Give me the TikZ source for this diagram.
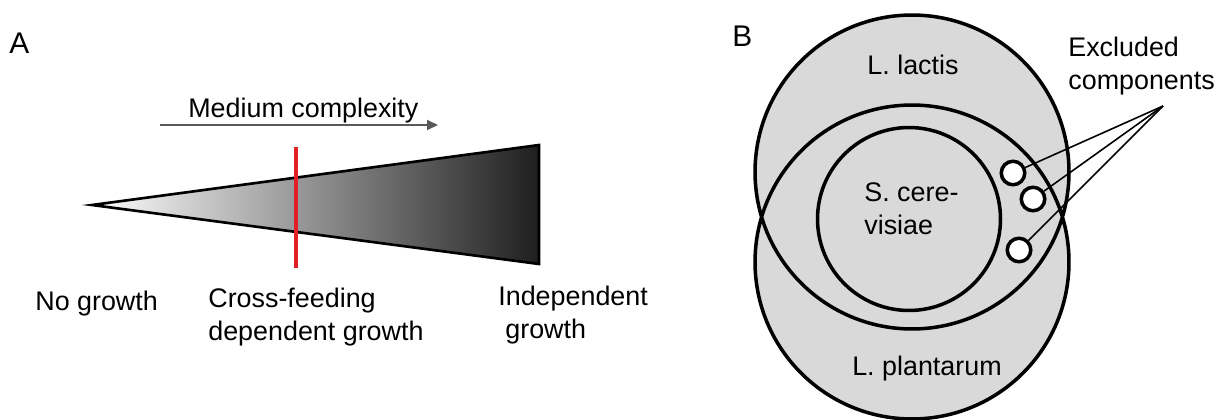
\documentclass[tikz,border=0pt]{standalone}
\usepackage{fontspec}
\setmainfont{Liberation Sans}
\usetikzlibrary{arrows.meta, positioning}
\definecolor{venngray}{HTML}{D9D9D9}
\definecolor{cutred}{HTML}{E31E24}
\tikzset{
    panel/.style={font=\fontsize{17}{20}\selectfont},
    ring/.style={line width=2pt},
    excl/.style={circle, draw, line width=2pt, fill=white, minimum size=0.47cm},
    lead/.style={line width=0.9pt},
    cutline/.style={cutred, line width=1.9pt},
}
\begin{document}
\begin{tikzpicture}[x=0.02cm, y=-0.02cm, every node/.style={font=\fontsize{15.3}{18.5}\selectfont, inner sep=0pt}]
    \useasboundingbox (0,0) rectangle (1219,419);
    \node[panel, anchor=base west] (lblA) at (9,53) {A};
    \coordinate (tip) at (92,205);
    \coordinate (tr) at (539,145);
    \coordinate (br) at (539,264);
    \shade[left color=white, right color=black!88] (tip) -- (tr) -- (br) -- cycle;
    \draw[line width=1.5pt] (tip) -- (tr) -- (br) -- cycle;
    \coordinate (cutTop) at (296,147);
    \coordinate (cutBot) at (296,268);
    \draw[cutline] (cutTop) -- (cutBot);
    \coordinate (arrS) at (160,125);
    \coordinate (arrE) at (438,125);
    \draw[-{Triangle[length=0.22cm,width=0.2cm]}, black!65, line width=1.1pt] (arrS) -- (arrE);
    \node[anchor=base west] (medium) at (188,117) {Medium complexity};
    \node[anchor=base west] (nogrowth) at (35,310) {No growth};
    \node[anchor=base west, align=left] (crossfeed) at (208,340) {Cross-feeding\\dependent growth};
    \node[anchor=base west, align=left] (indep) at (498,338) {Independent\\\hspace*{0.14cm}growth};

    \node[panel, anchor=base west] (lblB) at (732,46) {B};
    \coordinate (lactisc) at (912,172);
    \coordinate (plantc) at (912,262);
    \fill[venngray] (lactisc) circle[radius=3.14cm] (plantc) circle[radius=3.14cm];
    \draw[ring] (lactisc) circle[radius=3.14cm] (plantc) circle[radius=3.14cm];
    \node[circle, draw, ring, minimum size=3.66cm] (cerev) at (909,219) {};
    \node[anchor=base] (lactis) at (913,74) {L. lactis};
    \node[anchor=base west, align=left] (cerevtxt) at (864,234) {S. cere-\\visiae};
    \node[anchor=base] (plantarum) at (927,375) {L. plantarum};
    \node[excl] (ex1) at (1013,173) {};
    \node[excl] (ex2) at (1033,199) {};
    \node[excl] (ex3) at (1019,250) {};
    \coordinate (apex) at (1163,106);
    \foreach \e in {ex1,ex2,ex3}
        \draw[lead] (\e) -- (apex);
    \node[anchor=base west, align=left] (excluded) at (1068,89) {Excluded\\components};
\end{tikzpicture}
\end{document}
